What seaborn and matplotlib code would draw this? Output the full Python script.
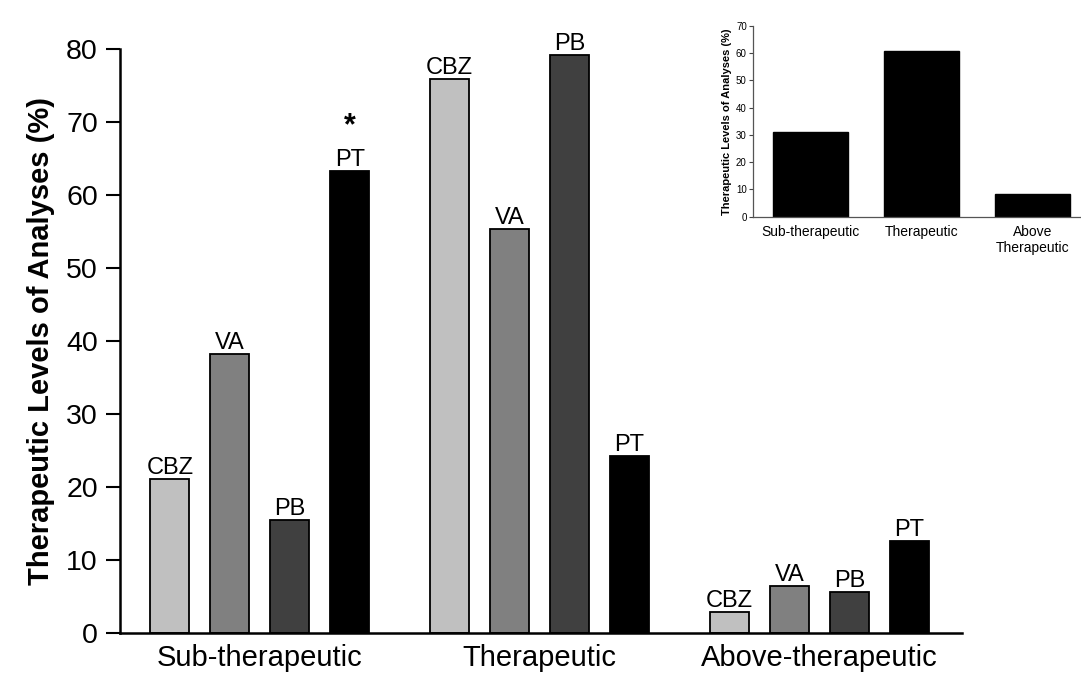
import pandas as pd
import matplotlib.pyplot as plt
import seaborn as sns

# dados
levels = ['Sub-therapeutic', 'Therapeutic', 'Above-therapeutic']
drugs = ['CBZ', 'VA', 'PB', 'PT']
cbz = [21.1, 75.9, 2.9]
va = [38.2, 55.3, 6.5]
pb = [15.5, 79.1, 5.6]
pt = [63.3, 24.3, 12.6]
drug_colors = ['#c0c0c0', '#808080', '#404040', '#000000']

inset_levels = ['Sub-therapeutic', 'Therapeutic', 'Above\nTherapeutic']
inset_values = [31.0, 60.9, 8.5]

df = pd.DataFrame({
    'level': levels * 4,
    'drug': [d for d in drugs for _ in levels],
    'value': cbz + va + pb + pt,
})
df_inset = pd.DataFrame({'level': inset_levels, 'value': inset_values})

sns.set_style('ticks')
plt.rcParams['font.family'] = ['Liberation Sans', 'DejaVu Sans']
plt.rcParams['text.color'] = 'black'
plt.rcParams['axes.labelcolor'] = 'black'
plt.rcParams['xtick.color'] = 'black'
plt.rcParams['ytick.color'] = 'black'

fig = plt.figure(figsize=(10.81, 6.80), dpi=100)
ax = fig.add_axes([0.111, 0.0691, 0.779, 0.859])

sns.barplot(data=df, x='level', y='value', hue='drug', order=levels,
            hue_order=drugs, palette=drug_colors, width=0.857, gap=0.35,
            edgecolor='black', linewidth=1.3, saturation=1, legend=False, ax=ax)

for cont, name in zip(ax.containers, drugs):
    ax.bar_label(cont, labels=[name] * len(cont), fontsize=17, padding=0)

# asterisco sobre PT no grupo sub-terapeutico
pt_bar = ax.containers[3][0]
ax.annotate('*', (pt_bar.get_x() + pt_bar.get_width() / 2, pt_bar.get_height()),
            xytext=(0, 21), textcoords='offset points', ha='center', va='bottom',
            fontsize=22, fontweight='bold')

ax.set_ylim(0, 80)
ax.set_xlim(-0.5, 2.51)
ax.set_yticks(range(0, 81, 10))
ax.set_xlabel('')
ax.set_ylabel('Therapeutic Levels of Analyses (%)', fontsize=21, fontweight='bold', labelpad=8)
ax.tick_params(axis='y', labelsize=20.5, length=10, width=1.5, pad=6)
ax.tick_params(axis='x', labelsize=21, length=0, pad=8)
for s in ['left', 'bottom']:
    ax.spines[s].set_linewidth(1.8)
    ax.spines[s].set_color('black')
sns.despine(ax=ax)

# grafico pequeno (total)
axi = fig.add_axes([0.6966, 0.6813, 0.3034, 0.2805])
sns.barplot(data=df_inset, x='level', y='value', color='black', width=0.68,
            saturation=1, edgecolor='black', ax=axi)
axi.set_ylim(0, 70)
axi.set_xlim(-0.52, 2.44)
axi.set_yticks(range(0, 71, 10))
axi.set_xlabel('')
axi.set_ylabel('Therapeutic Levels of Analyses (%)', fontsize=8, fontweight='bold', labelpad=3)
axi.tick_params(axis='y', labelsize=7, length=3, width=0.8, pad=1.5, color='#444444')
axi.tick_params(axis='x', labelsize=10, length=0, pad=6)
for s in ['left', 'bottom']:
    axi.spines[s].set_linewidth(0.9)
    axi.spines[s].set_color('#555555')
sns.despine(ax=axi)

fig.savefig('out.png', dpi=100)
